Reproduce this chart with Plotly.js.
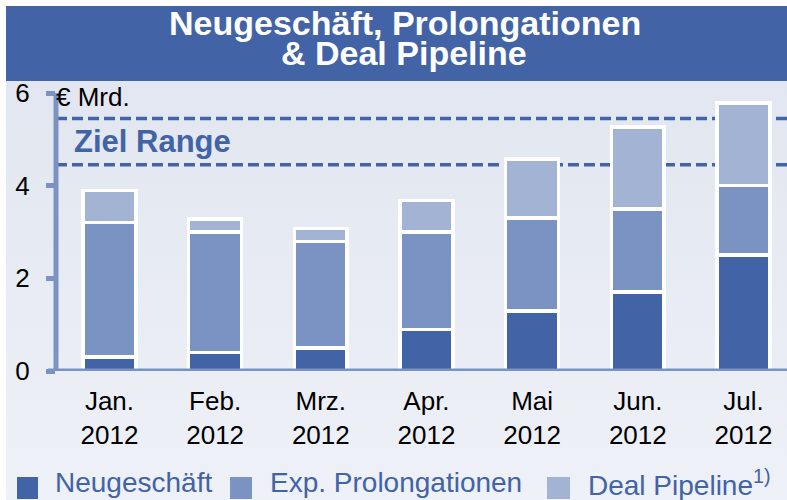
<!DOCTYPE html>
<html>
<head>
<meta charset="utf-8">
<script src="https://cdn.plot.ly/plotly-3.0.1.min.js"></script>
<style>html,body{margin:0;padding:0;background:#fff;}#chart{width:787px;height:500px;}</style>
</head>
<body>
<div id="chart"></div>
<script>
// ---- data ----
var months = ['Jan.', 'Feb.', 'Mrz.', 'Apr.', 'Mai', 'Jun.', 'Jul.'];
var years = ['2012', '2012', '2012', '2012', '2012', '2012', '2012'];
var seriesNames = ['Neugeschäft', 'Exp. Prolongationen', 'Deal Pipeline'];
var neugeschaeft = [0.3, 0.4, 0.5, 0.9, 1.3, 1.7, 2.5];
var prolongationen = [2.9, 2.6, 2.3, 2.1, 2.0, 1.8, 1.5];
var dealPipeline = [0.7, 0.28, 0.28, 0.68, 1.28, 1.77, 1.78];
var zielRange = [4.45, 5.45];
var yTicks = [0, 2, 4, 6];

// ---- styling ----
var FONT = 'Liberation Sans, Arial, sans-serif';
var colors = ['#4263a6', '#7a93c3', '#a2b3d4'];
var axisColor = '#7a93c3';
var W = 787, H = 500, ML = 56, MR = 0, MT = 81, MB = 129;
var PW = W - ML - MR, PH = H - MT - MB;
function px2x(px) { return (px - ML) / PW; }
function py2y(py) { return (H - MB - py) / PH; }

var cats = months.map(function (m, i) { return m + '<br>' + years[i]; });
var values = [neugeschaeft, prolongationen, dealPipeline];

var traces = values.map(function (v, i) {
  return {
    type: 'bar', x: cats, y: v, name: seriesNames[i], width: 0.5,
    marker: { color: colors[i], line: { color: '#ffffff', width: 3.5 } },
    showlegend: false, hoverinfo: 'skip'
  };
});

var grad = '<svg xmlns="http://www.w3.org/2000/svg" width="10" height="100" viewBox="0 0 10 100" preserveAspectRatio="none">' +
  '<defs><linearGradient id="g" x1="0" y1="0" x2="0" y2="1"><stop offset="0" stop-color="#e2e6f0"/>' +
  '<stop offset="1" stop-color="#eef1f7"/></linearGradient></defs><rect width="10" height="100" fill="url(#g)"/></svg>';

var shapes = [
  // title banner
  { type: 'rect', xref: 'paper', yref: 'paper', x0: px2x(6), x1: 1, y0: py2y(81), y1: py2y(6),
    fillcolor: '#4263a6', line: { width: 0 }, layer: 'above' }
];
zielRange.forEach(function (v) {
  shapes.push({ type: 'line', xref: 'paper', yref: 'y', x0: 0, x1: 1, y0: v, y1: v,
    line: { color: '#4263a6', width: 3.5, dash: '11px,5px' }, layer: 'below' });
});
// axis lines
shapes.push({ type: 'line', xref: 'paper', yref: 'y', x0: px2x(48), x1: 1, y0: 0, y1: 0,
  line: { color: axisColor, width: 5 }, layer: 'above' });
shapes.push({ type: 'line', xref: 'paper', yref: 'y', x0: 0, x1: 0, y0: -0.05, y1: 6,
  line: { color: axisColor, width: 5 }, layer: 'above' });

// legend
var legSq = [[17, 38], [230, 252], [547, 570]];
var legTx = [55, 270, 588];
seriesNames.forEach(function (n, i) {
  shapes.push({ type: 'rect', xref: 'paper', yref: 'paper', x0: px2x(legSq[i][0]), x1: px2x(legSq[i][1]),
    y0: py2y(499), y1: py2y(477), fillcolor: colors[i], line: { width: 0 } });
});

var annotations = [
  { text: 'Neugeschäft, Prolongationen', xref: 'paper', yref: 'paper', x: px2x(405), y: py2y(23),
    xanchor: 'center', yanchor: 'middle', showarrow: false,
    font: { family: FONT, size: 34, color: '#ffffff', weight: 'bold' } },
  { text: '& Deal Pipeline', xref: 'paper', yref: 'paper', x: px2x(404), y: py2y(53),
    xanchor: 'center', yanchor: 'middle', showarrow: false,
    font: { family: FONT, size: 34, color: '#ffffff', weight: 'bold' } },
  { text: '€ Mrd.', xref: 'paper', yref: 'paper', x: px2x(54), y: py2y(97),
    xanchor: 'left', yanchor: 'middle', showarrow: false,
    font: { family: FONT, size: 26, color: '#000000' } },
  { text: 'Ziel Range', xref: 'paper', yref: 'paper', x: px2x(72), y: py2y(141),
    xanchor: 'left', yanchor: 'middle', showarrow: false,
    font: { family: FONT, size: 31, color: '#4263a6', weight: 'bold' } }
];
seriesNames.forEach(function (n, i) {
  annotations.push({ text: n + (i === 2 ? '<sup>1)</sup>' : ''), xref: 'paper', yref: 'paper',
    x: px2x(legTx[i] - 2), y: py2y(483), xanchor: 'left', yanchor: 'middle', showarrow: false,
    font: { family: FONT, size: 28, color: '#4263a6' } });
});

var layout = {
  width: W, height: H,
  margin: { l: ML, r: MR, t: MT, b: MB, pad: 0 },
  paper_bgcolor: '#ffffff', plot_bgcolor: 'rgba(0,0,0,0)',
  barmode: 'stack', showlegend: false,
  xaxis: {
    type: 'category', range: [-0.506, 6.412], showgrid: false, zeroline: false, showline: false,
    ticks: '', ticklabelstandoff: 12, tickfont: { family: FONT, size: 26, color: '#000000' }
  },
  yaxis: {
    range: [0, PH / ((H - MB - 93) / 6)], tickvals: yTicks, ticktext: yTicks.map(String),
    showgrid: false, zeroline: false, showline: false,
    ticks: 'outside', ticklen: 9, tickwidth: 5, tickcolor: axisColor, ticklabelstandoff: 11,
    tickfont: { family: FONT, size: 26, color: '#000000' }
  },
  images: [{ source: 'data:image/svg+xml;utf8,' + encodeURIComponent(grad), xref: 'paper', yref: 'paper',
    x: px2x(6), y: py2y(81), sizex: (W - 6) / PW, sizey: (H - 81) / PH,
    xanchor: 'left', yanchor: 'top', sizing: 'stretch', layer: 'below' }],
  shapes: shapes,
  annotations: annotations
};

Plotly.newPlot('chart', traces, layout, { displayModeBar: false, staticPlot: true });
</script>
</body>
</html>
